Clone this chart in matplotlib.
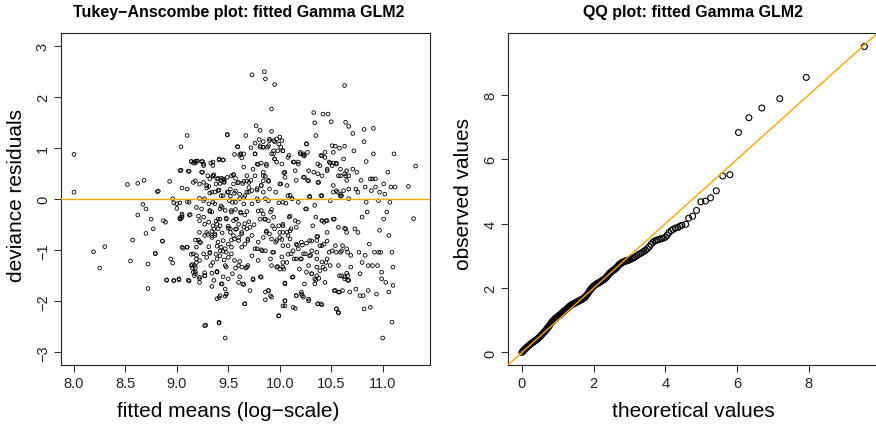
import matplotlib
matplotlib.use("Agg")
import matplotlib.pyplot as plt

plt.rcParams["font.family"] = ["Liberation Sans", "DejaVu Sans"]

# --- Tukey-Anscombe: fitted means (log-scale) vs deviance residuals ---
ta_fitted = [
    8.00, 8.00, 8.19, 8.25, 8.30,
    8.52, 8.62, 8.68, 8.55, 8.57, 8.62, 8.67, 8.70, 8.70, 8.72, 8.72, 8.75, 8.77, 8.79,
    8.81, 8.82, 8.86, 8.87, 8.89, 8.90, 8.93, 8.94, 8.96, 8.96, 8.97, 8.97, 9.00,
    9.02, 9.03, 9.04, 9.03, 9.04, 9.05, 9.05, 9.05, 9.05, 9.10, 9.10, 9.10, 9.11, 9.11,
    9.10, 9.12, 9.14, 9.16, 9.18, 9.19, 9.14, 9.15, 9.15, 9.16, 9.17, 9.17, 9.18, 9.18,
    9.19, 9.19, 9.19, 9.21, 9.22, 9.22, 9.22, 9.22, 9.23, 9.24, 9.24, 9.26, 9.27, 9.26,
    9.27, 9.27, 9.28, 9.29, 9.30, 9.30, 9.31, 9.32, 9.32, 9.33, 9.32, 9.32, 9.33, 9.34,
    9.35, 9.35, 9.36, 9.36, 9.36, 9.37, 9.38, 9.38, 9.39, 9.39, 9.39, 9.40, 9.40, 9.41,
    9.41, 9.41, 9.41, 9.42, 9.42, 9.42, 9.43, 9.44, 9.44, 9.45, 9.45, 9.45, 9.45, 9.46,
    9.46, 9.47, 9.47, 9.47, 9.48, 9.48, 9.49, 9.49, 9.49, 9.50, 9.48,
    9.50, 9.51, 9.52, 9.52, 9.53, 9.53, 9.54, 9.55, 9.55, 9.56, 9.57, 9.57, 9.57, 9.58,
    9.59, 9.59, 9.60, 9.60, 9.61, 9.61, 9.61, 9.62, 9.62, 9.63, 9.64, 9.64, 9.65, 9.65,
    9.66, 9.66, 9.67, 9.67, 9.68, 9.68, 9.69, 9.69, 9.70, 9.71, 9.71, 9.72, 9.72, 9.73,
    9.73, 9.74, 9.74, 9.75, 9.76, 9.76, 9.77, 9.78, 9.78, 9.79, 9.79, 9.80, 9.81, 9.81,
    9.82, 9.82, 9.83, 9.84, 9.84, 9.85, 9.85, 9.86, 9.86, 9.86, 9.87, 9.87, 9.88, 9.89,
    9.89, 9.90, 9.91, 9.91, 9.92, 9.92, 9.92, 9.93, 9.93, 9.94, 9.94, 9.95, 9.95, 9.96,
    9.96, 9.97, 9.98, 9.98, 9.99, 10.00,
    10.00, 10.01, 10.01, 10.02, 10.03, 10.03, 10.04, 10.04, 10.05, 10.05, 10.05, 10.06,
    10.07, 10.07, 10.08, 10.09, 10.09, 10.10, 10.11, 10.11, 10.12, 10.12, 10.13, 10.14,
    10.14, 10.15, 10.16, 10.16, 10.17, 10.18, 10.19, 10.20, 10.20, 10.21, 10.22, 10.22,
    10.23, 10.24, 10.24, 10.25, 10.25, 10.26, 10.27, 10.27, 10.28, 10.29, 10.29, 10.30,
    10.31, 10.31, 10.32, 10.33, 10.33, 10.34, 10.34, 10.35, 10.35, 10.35, 10.36, 10.36,
    10.37, 10.37, 10.38, 10.38, 10.39, 10.40, 10.40, 10.40, 10.41, 10.42, 10.42, 10.43,
    10.44, 10.44, 10.45, 10.45, 10.46, 10.46, 10.47, 10.48, 10.48, 10.49, 10.50,
    10.51, 10.51, 10.52, 10.53, 10.53, 10.54, 10.55, 10.55, 10.56, 10.57, 10.57, 10.58,
    10.59, 10.59, 10.60, 10.60, 10.61, 10.61, 10.62, 10.63, 10.63, 10.64, 10.64, 10.64,
    10.65, 10.66, 10.66, 10.66, 10.67, 10.67, 10.68, 10.69, 10.69, 10.71, 10.71, 10.72,
    10.73, 10.74, 10.74, 10.75, 10.76, 10.76, 10.77, 10.78, 10.78, 10.79, 10.80, 10.80,
    10.81, 10.82, 10.82, 10.82, 10.83, 10.83, 10.84, 10.84, 10.85, 10.86, 10.86, 10.87,
    10.88, 10.88, 10.89, 10.90, 10.90, 10.91, 10.91, 10.92, 10.93, 10.93, 10.94, 10.95,
    10.96, 10.96, 10.97, 10.97, 10.98, 10.99, 10.99,
    11.00, 11.01, 11.01, 11.02, 11.03, 11.04, 11.05, 11.06, 11.06, 11.07, 11.08, 11.09,
    11.09, 11.10, 11.10, 11.11, 11.12, 11.25, 11.30, 11.32,
]
ta_resid = [
    0.88, 0.14, -1.03, -1.35, -0.93,
    0.29, 0.31, 0.37, -1.21, -0.80, -0.31, -0.10, -0.67, -0.19, -1.27, -1.75, -0.39, -0.58, -1.07,
    0.15, 0.16, -0.82, -0.42, -0.45, -1.59, 0.35, -1.17, -1.25, 0.01, -0.07, -1.59, -0.09,
    -1.58, 0.56, 1.03, -0.36, -0.38, -0.32, -0.29, -0.94, 0.22, 0.20, -0.94, -0.05, 0.55, -1.59,
    1.25, -0.31, 0.74, 0.71, 0.74, 0.75, -1.08, -1.28, -1.35, -1.43, -1.30, -1.50, -1.42, -1.34,
    -1.24, -1.10, -0.94, -0.80, -1.56, -1.63, -0.65, 0.30, -0.85, 0.53, 0.74, 0.69, 0.01, -0.35,
    -1.44, -1.50, -2.47, 0.22, 0.46, -0.69, -0.93, -0.24, -1.06, -1.30, 0.12, 0.40, 0.71, -0.63,
    -0.06, 0.46, 0.48, -0.58, -1.59, 0.14, -0.43, -1.08, -1.43, -1.42, -0.92, 0.41, -0.39, 0.79,
    0.18, -1.93, -2.41, -0.52, -0.19, -1.01, 0.37, -1.66, -0.66, -0.81, 0.40, 0.07, 0.77, 0.35,
    -1.19, -1.90, -2.72, -1.30, -0.37, -1.04, 1.26, 1.27, 0.14, -1.56, -1.86,
    -0.57, -0.03, -0.58, 0.20, -0.25, -0.94, -0.06, 0.48, 0.30, 0.88, 0.16, -1.35, -0.59, -0.39,
    1.03, 0.32, -1.63, -0.81, 0.86, 0.01, -1.22, 0.89, -0.25, -0.65, 0.31, -1.66, 0.03, 0.63,
    -0.48, -2.05, -1.35, 1.25, 0.14, 0.46, -1.30, -0.78, 0.23, -0.55, -1.79, 0.37, 1.01, -0.09,
    2.44, -1.58, 0.59, -0.50, 0.89, -0.97, 1.44, 0.18, 0.01, 0.68, -0.23, 1.17, 1.35, 1.05,
    -1.53, 0.27, -1.01, 0.46, 1.02, -0.39, 2.50, -1.82, 2.36, 0.01, 0.69, -0.65, 1.02, 0.37,
    -1.79, 1.18, -1.17, -0.25, -1.92, 1.33, 1.77, -1.04, -0.52, 0.89, 1.15, 2.25, 0.79, 0.14,
    -0.84, 1.18, 0.95, -1.32, -2.28, -0.65,
    1.22, 0.30, 1.02, -0.79, 0.95, -0.52, -1.37, 0.52, -1.99, -2.09, -1.66, -0.08,
    0.27, -0.65, -0.91, 0.86, -0.35, 0.08, -1.07, -0.58, 0.01, -1.53, -2.12, 0.73,
    -1.17, -0.42, -1.89, 0.37, -0.90, 0.69, -1.37, 0.89, -1.17, -1.82, -0.90, -1.89,
    0.86, 0.43, -1.66, -0.19, -1.07, 1.09, 0.92, 0.37, -1.96, -0.81, 0.04, -1.10,
    -1.01, -1.46, -0.52, 0.53, 1.70, -1.66, 1.50, -0.35, 1.25, -1.59, -1.17, -0.73,
    0.69, -2.05, -1.55, 0.33, -0.91, -2.05, 0.07, 0.86, -0.42, -1.33, 1.67, -0.88,
    0.92, -1.63, -0.42, -1.24, 0.56, -0.65, 1.67, -1.04, 0.73, -0.03, 1.52,
    0.66, 1.05, 0.27, -0.39, -1.79, -0.91, -2.15, 0.71, 0.14, -2.22, -1.30, -1.82,
    0.46, -1.04, 0.07, -1.50, -1.79, -0.91, 0.79, 2.23, -1.56, -0.58, 1.51, 0.46,
    0.37, -1.04, -1.59, -1.50, 0.01, 1.43, -1.82, -1.33, -1.10, 1.29, 0.59, 0.95,
    -0.58, 0.20, -1.76, 0.53, -0.65, 0.14, -1.04, -1.89, -1.46, 0.37, -0.35, -1.24,
    -1.89, -2.15, 1.13, 1.37, 0.24, -1.10, -0.06, 0.74, -0.25, -1.30, -1.79, -0.88,
    0.40, -2.12, 0.17, -1.30, 0.40, 0.89, 1.39, -1.04, 0.40, 0.24, -1.86, -1.30,
    -1.04, -0.03, 0.14, -0.61, -1.04, -1.56, -1.43,
    -2.72, 0.30, -0.39, 0.10, -1.63, -0.25, 0.53, -1.82, -0.71, -0.06, 0.24, -1.04,
    -2.41, -1.33, -1.69, 0.89, 0.24, 0.25, -0.38, 0.65,
]

# extra points read from the dense middle of the cloud
ta_fitted_dense = [
    9.59, 9.62, 9.65, 9.63, 9.35, 9.41, 9.45, 9.35, 9.14, 9.18, 9.20, 9.25, 9.26,
    9.04, 9.12, 9.25, 9.35, 9.39, 9.43, 9.46, 9.49, 9.53, 9.55, 9.16, 9.18, 9.26,
    9.29, 9.31, 9.38, 9.42, 9.46, 9.57, 9.60, 9.65, 9.68, 9.70,
    9.34, 9.40, 9.43, 9.50, 9.52, 9.56, 9.61, 9.66, 9.70,
    9.22, 9.26, 9.31, 9.37, 9.43, 9.57, 9.65,
    9.00, 9.03, 9.12, 9.19, 9.24, 9.32, 9.34, 9.44, 9.47, 9.53, 9.57, 9.62, 9.66, 9.68,
    9.03, 9.05, 9.13, 9.21, 9.22, 9.27, 9.31, 9.35, 9.39, 9.42, 9.40, 9.48, 9.50, 9.55,
    9.57, 9.60, 9.65, 9.68, 9.70,
    9.29, 9.34, 9.37, 9.52, 9.55, 9.58, 9.63,
    8.86, 8.79,
    9.06, 9.10, 9.18, 9.22, 9.27, 9.34, 9.37, 9.40, 9.43, 9.47, 9.50, 9.53, 9.56, 9.60,
    9.63, 9.66, 9.69,
    9.16, 9.19, 9.22, 9.26, 9.29, 9.32, 9.35, 9.39, 9.42, 9.45, 9.50, 9.53, 9.56, 9.60,
    9.63, 9.68,
    8.90, 8.97, 9.02, 9.12, 9.14, 9.18, 9.22, 9.27, 9.34, 9.39, 9.45, 9.48, 9.54, 9.61, 9.65,
    9.34, 9.43, 9.47, 9.48, 9.42, 9.39, 9.66, 9.27, 9.41,
    9.76, 9.84, 9.89, 9.90, 9.95, 9.99, 10.02, 10.03,
    9.76, 9.81, 9.84, 9.92, 9.94, 10.08,
    10.26, 10.23, 10.20, 10.24, 10.41, 10.44, 10.54, 10.52, 10.58, 10.63,
    9.78, 9.82, 9.87, 9.95, 9.97, 10.02,
    10.13, 10.18, 10.15, 10.28, 10.37, 10.39, 10.49, 10.52, 10.55, 10.59, 10.65, 10.67, 10.63,
    9.76, 9.84, 9.86, 9.84, 9.89, 10.05, 10.05, 10.00, 10.23, 10.28, 10.37, 10.41, 10.46, 10.57,
    9.73, 9.78, 9.82, 9.84, 9.90, 10.08, 10.52, 10.55, 10.59, 10.62, 10.67,
    10.29, 10.41, 10.59,
    9.79, 9.89, 9.99, 10.03, 10.12, 10.18,
    9.82, 9.84, 9.92, 9.81, 9.86, 9.89, 9.94, 9.99, 10.03, 10.10, 10.18, 10.26, 10.34,
    10.41, 10.43, 10.46, 10.52, 10.57, 10.63,
    9.87, 9.90, 9.95, 10.03, 10.08, 10.10, 10.16, 10.37, 10.65,
    9.73, 9.79, 9.84, 9.78, 9.82, 9.86, 9.73, 9.79,
    9.92, 9.97, 10.00, 10.03, 10.10, 10.13, 10.08, 9.94, 10.02, 10.03, 10.07, 9.92, 9.97,
    10.00, 10.03,
    10.16, 10.21, 10.26, 10.31, 10.36, 10.41, 10.46, 10.18, 10.23, 10.29, 10.36, 10.41,
    10.46, 10.51, 10.55, 10.60, 10.65, 10.16, 10.21, 10.28, 10.36, 10.39, 10.44, 10.49,
    10.26, 10.31, 10.36, 10.34, 10.58, 10.63, 10.67, 10.65,
    9.74, 9.81, 9.89, 9.91, 9.86, 10.05, 10.13, 10.16, 10.21, 10.23, 10.28, 10.37, 10.41,
    10.54, 10.57, 10.55, 10.57, 10.05, 10.03, 10.15, 9.99,
]
ta_resid_dense = [
    1.03, 0.89, 0.89, 0.81, 0.73, 0.77, 0.77, 0.66, 0.74, 0.71, 0.75, 0.74, 0.66,
    0.57, 0.55, 0.53, 0.45, 0.40, 0.41, 0.38, 0.43, 0.46, 0.48, 0.33, 0.36, 0.33,
    0.27, 0.25, 0.30, 0.31, 0.33, 0.41, 0.33, 0.35, 0.36, 0.33,
    0.14, 0.17, 0.07, 0.14, 0.06, 0.12, 0.10, 0.07, 0.14,
    0.02, -0.03, -0.09, -0.09, -0.13, -0.06, -0.09,
    -0.18, -0.07, -0.06, -0.16, -0.19, -0.22, -0.25, -0.16, -0.22, -0.22, -0.20, -0.27, -0.31, -0.24,
    -0.39, -0.35, -0.30, -0.33, -0.42, -0.49, -0.45, -0.52, -0.49, -0.39, -0.58, -0.39, -0.53, -0.42,
    -0.39, -0.49, -0.55, -0.58, -0.44,
    -0.65, -0.71, -0.68, -0.65, -0.71, -0.58, -0.68,
    -0.82, -1.06,
    -0.96, -0.94, -0.80, -0.84, -0.71, -0.75, -0.71, -0.84, -0.94, -0.97, -0.88, -0.80, -0.78, -0.75,
    -0.94, -0.88, -0.81,
    -1.07, -1.17, -1.20, -1.07, -1.14, -1.04, -1.24, -1.17, -1.11, -1.02, -1.14, -1.07, -1.20, -1.30,
    -1.33, -1.33,
    -1.58, -1.60, -1.56, -1.60, -1.30, -1.46, -1.53, -1.50, -1.45, -1.42, -1.52, -1.33, -1.46, -1.52, -1.67,
    -1.71, -1.66, -1.76, -1.86, -1.89, -1.95, -2.05, -2.48, -2.43,
    1.10, 1.13, 1.05, 1.15, 1.13, 1.08, 1.15, 0.95,
    0.89, 1.02, 1.02, 0.89, 0.95, 0.82,
    1.08, 0.89, 0.92, 0.85, 0.85, 0.82, 1.04, 0.92, 1.00, 1.04,
    0.69, 0.71, 0.66, 0.79, 0.73, 0.69,
    0.73, 0.73, 0.56, 0.56, 0.50, 0.66, 0.71, 0.71, 0.69, 0.59, 0.56, 0.46, 0.50,
    0.46, 0.53, 0.45, 0.36, 0.35, 0.53, 0.43, 0.30, 0.43, 0.36, 0.33, 0.46, 0.59, 0.46,
    0.17, 0.21, 0.27, 0.14, 0.20, 0.07, 0.14, 0.17, 0.10, 0.17, 0.20,
    0.06, 0.07, 0.06,
    -0.03, -0.03, -0.07, -0.06, 0.01, -0.06,
    -0.22, -0.29, -0.20, -0.39, -0.39, -0.42, -0.35, -0.52, -0.49, -0.33, -0.45, -0.19, -0.12,
    -0.42, -0.45, -0.42, -0.39, -0.55, -0.57,
    -0.62, -0.68, -0.58, -0.65, -0.71, -0.62, -0.55, -0.73, -0.65,
    -0.71, -0.84, -0.75, -0.97, -0.99, -1.01, -1.11, -1.20,
    -0.78, -0.81, -0.75, -0.91, -0.78, -1.01, -1.08, -1.04, -1.13, -1.24, -1.24, -1.30, -1.33,
    -1.37, -1.33,
    -0.88, -0.84, -0.86, -0.82, -0.81, -0.91, -0.82, -0.97, -1.07, -1.11, -1.04, -1.23,
    -1.17, -1.01, -1.04, -1.01, -0.97, -1.17, -1.17, -1.30, -1.33, -1.40, -1.37, -1.30,
    -1.43, -1.46, -1.50, -1.56, -1.50, -1.52, -1.59, -1.45,
    -1.56, -1.52, -1.79, -1.89, -1.97, -1.64, -1.52, -1.89, -1.86, -1.92, -1.99, -2.05, -2.07,
    -1.79, -1.82, -2.15, -2.23, -1.99, -2.09, -2.14, -2.29,
]

# --- QQ plot: theoretical vs observed values ---
qq_theo = [
    0.000, 0.025, 0.050, 0.075, 0.100, 0.125, 0.150, 0.175, 0.200, 0.225,
    0.250, 0.275, 0.300, 0.325, 0.350, 0.375, 0.400, 0.425, 0.450, 0.475,
    0.500, 0.525, 0.550, 0.575, 0.600, 0.625, 0.650, 0.675, 0.700, 0.725,
    0.750, 0.775, 0.800, 0.825, 0.850, 0.875, 0.900, 0.925, 0.950, 0.975,
    1.000, 1.025, 1.050, 1.075, 1.100, 1.125, 1.150, 1.175, 1.200, 1.225,
    1.250, 1.275, 1.300, 1.325, 1.350, 1.375, 1.400, 1.425, 1.450, 1.475,
    1.500, 1.525, 1.550, 1.575, 1.600, 1.625, 1.650, 1.675, 1.700, 1.725,
    1.750, 1.775, 1.800, 1.825, 1.850, 1.875, 1.900, 1.925, 1.950, 1.975,
    2.000, 2.025, 2.050, 2.075, 2.100, 2.125, 2.150, 2.175, 2.200, 2.225,
    2.250, 2.275, 2.300, 2.325, 2.350, 2.375, 2.400, 2.425, 2.450, 2.475,
    2.500, 2.525, 2.550, 2.575, 2.600, 2.625, 2.650, 2.675, 2.700, 2.725,
    2.750, 2.775, 2.800, 2.825, 2.850, 2.875, 2.900, 2.925, 2.950, 2.975,
    3.000, 3.05, 3.10, 3.15, 3.20, 3.25, 3.30, 3.35, 3.40, 3.45,
    3.50, 3.55, 3.60, 3.65, 3.70, 3.75, 3.80, 3.85, 3.90, 3.95,
    4.00, 4.05, 4.10, 4.16, 4.21, 4.28, 4.35, 4.40, 4.46, 4.57,
    4.65, 4.76, 4.87, 4.99, 5.12, 5.26, 5.42, 5.60, 5.80, 6.04,
    6.33, 6.69, 7.19, 7.93, 9.55,
]
qq_obs = [
    0.00, 0.04, 0.07, 0.09, 0.12, 0.15, 0.17, 0.20, 0.22, 0.24,
    0.27, 0.29, 0.31, 0.33, 0.35, 0.37, 0.39, 0.41, 0.44, 0.46,
    0.49, 0.52, 0.55, 0.58, 0.61, 0.64, 0.67, 0.70, 0.74, 0.78,
    0.81, 0.85, 0.89, 0.93, 0.96, 0.99, 1.02, 1.05, 1.07, 1.09,
    1.11, 1.14, 1.16, 1.18, 1.21, 1.23, 1.26, 1.28, 1.31, 1.33,
    1.35, 1.38, 1.40, 1.43, 1.45, 1.47, 1.49, 1.50, 1.52, 1.53,
    1.55, 1.56, 1.58, 1.59, 1.61, 1.62, 1.64, 1.65, 1.67, 1.69,
    1.71, 1.74, 1.77, 1.81, 1.85, 1.89, 1.93, 1.97, 2.00, 2.03,
    2.06, 2.08, 2.10, 2.12, 2.14, 2.15, 2.17, 2.19, 2.21, 2.22,
    2.24, 2.26, 2.28, 2.30, 2.33, 2.36, 2.40, 2.43, 2.46, 2.49,
    2.51, 2.53, 2.55, 2.57, 2.59, 2.62, 2.65, 2.68, 2.71, 2.74,
    2.76, 2.78, 2.80, 2.81, 2.82, 2.83, 2.84, 2.85, 2.86, 2.87,
    2.88, 2.90, 2.93, 2.96, 3.00, 3.04, 3.07, 3.10, 3.14, 3.18,
    3.22, 3.28, 3.36, 3.42, 3.46, 3.48, 3.50, 3.52, 3.54, 3.55,
    3.58, 3.64, 3.72, 3.78, 3.82, 3.86, 3.88, 3.92, 3.95, 3.98,
    4.17, 4.23, 4.41, 4.68, 4.70, 4.80, 5.02, 5.48, 5.52, 6.83,
    7.29, 7.59, 7.88, 8.54, 9.50,
]

W, H = 876, 427
fig = plt.figure(figsize=(W / 100, H / 100), dpi=100)

ORANGE = "#FFA500"
TICK_FS = 10.5
LAB_FS = 15
TITLE_FS = 11.5


def style_axis(ax):
    for s in ax.spines.values():
        s.set_linewidth(0.8)
        s.set_color("#222222")
    ax.tick_params(direction="out", length=5, width=0.7, labelsize=TICK_FS,
                   colors="#222222", pad=3)
    for lbl in ax.get_yticklabels():
        lbl.set_rotation(90)
        lbl.set_va("center")


# left panel
ax1 = fig.add_axes([61 / W, 1 - 366 / H, (430 - 61) / W, (366 - 34) / H])
ax1.scatter(ta_fitted + ta_fitted_dense, ta_resid + ta_resid_dense, s=7,
            facecolors="none", edgecolors="black", linewidths=0.6, zorder=2)
ax1.axhline(0, color=ORANGE, lw=1.0, zorder=3)
ax1.set_xlim(7.874, 11.46)
ax1.set_ylim(-3.25, 3.26)
ax1.set_xticks([8.0, 8.5, 9.0, 9.5, 10.0, 10.5, 11.0])
ax1.set_xticklabels(["8.0", "8.5", "9.0", "9.5", "10.0", "10.5", "11.0"])
ax1.set_yticks([-3, -2, -1, 0, 1, 2, 3])
style_axis(ax1)

# right panel
ax2 = fig.add_axes([508.3 / W, 1 - 366 / H, (878 - 508.3) / W, (366 - 34) / H])
ax2.scatter(qq_theo, qq_obs, s=18, facecolors="none", edgecolors="black",
            linewidths=0.8, zorder=2)
ax2.plot([-1, 11], [-1, 11], color=ORANGE, lw=1.0, zorder=3)
ax2.set_xlim(-0.38, 9.93)
ax2.set_ylim(-0.39, 9.92)
ax2.set_xticks([0, 2, 4, 6, 8])
ax2.set_yticks([0, 2, 4, 6, 8])
style_axis(ax2)

# titles and axis labels placed as in the reference
fig.text(238.7 / W, 1 - 13 / H, "Tukey\u2212Anscombe plot: fitted Gamma GLM2",
         ha="center", va="center", fontsize=TITLE_FS, fontweight="bold")
fig.text(693 / W, 1 - 13 / H, "QQ plot: fitted Gamma GLM2",
         ha="center", va="center", fontsize=TITLE_FS, fontweight="bold")
fig.text(228.5 / W, 1 - 412 / H, "fitted means (log\u2212scale)",
         ha="center", va="center", fontsize=LAB_FS)
fig.text(693 / W, 1 - 412 / H, "theoretical values",
         ha="center", va="center", fontsize=LAB_FS)
fig.text(17 / W, 1 - 196 / H, "deviance residuals", rotation=90,
         ha="center", va="center", fontsize=LAB_FS)
fig.text(463 / W, 1 - 194 / H, "observed values", rotation=90,
         ha="center", va="center", fontsize=LAB_FS)

fig.savefig("out.png", dpi=100)
